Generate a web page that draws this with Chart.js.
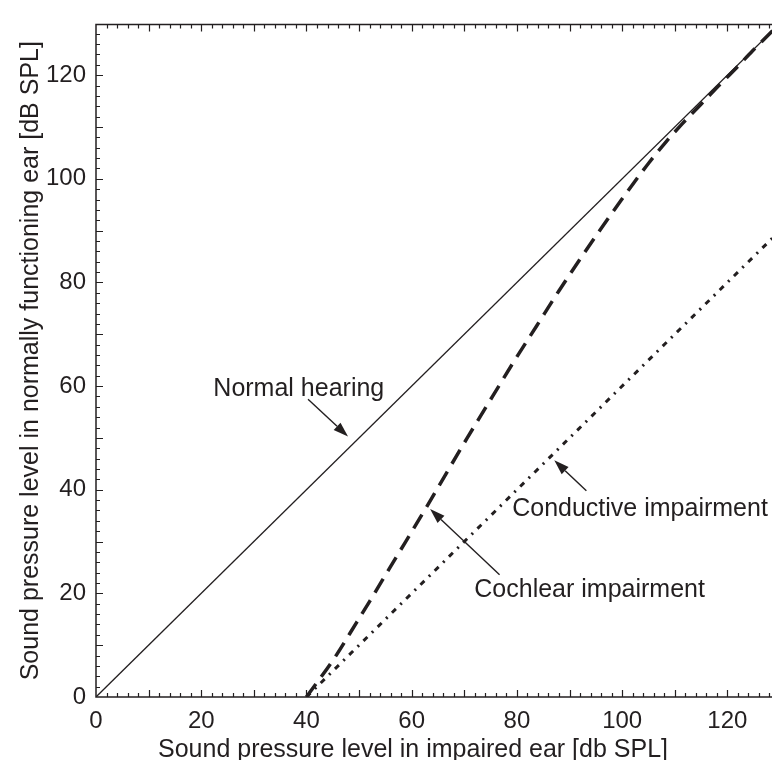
<!DOCTYPE html>
<html>
<head>
<meta charset="utf-8">
<script src="https://cdn.jsdelivr.net/npm/chart.js@4.4.0/dist/chart.umd.min.js"></script>
<style>
  html, body { margin: 0; padding: 0; background: #fff; overflow: hidden; }
  #wrap { width: 780px; height: 760px; position: relative; }
</style>
</head>
<body>
<div id="wrap"><canvas id="chart"></canvas></div>
<script>
// loudness curves: impaired-ear level (x) vs matching normal-ear level (y)
const normalX = [0, 130];
const normalY = [0, 130];
const cochlearX = [40, 45.5, 49.6, 52.1, 54.4, 56.9, 62.9, 67, 70.5, 75.6, 79.4, 83.8, 88, 92, 96, 99.7, 102.2, 105.1, 108.3, 111.4, 114.9, 118.1, 121.6, 124.8, 128.3, 130];
const cochlearY = [0, 7.8, 14.5, 18.6, 22.5, 26.7, 36.8, 43.9, 49.9, 58.4, 64.7, 71.7, 78.4, 84.5, 90.4, 95.7, 99.2, 103.1, 107.1, 110.6, 114.3, 117.7, 121.3, 124.7, 128.3, 130];
const conductiveX = [40, 130];
const conductiveY = [0, 90];

const xTicks = [0, 20, 40, 60, 80, 100, 120];
const yTicks = [0, 20, 40, 60, 80, 100, 120];
const xTitle = 'Sound pressure level in impaired ear [db SPL]';
const yTitle = 'Sound pressure level in normally functioning ear [dB SPL]';

// callout text and arrows, in data units
const calloutText = ['Normal hearing', 'Conductive impairment', 'Cochlear impairment'];
const calloutX = [22.3, 79.1, 71.9];
const calloutY = [58.05, 34.93, 19.22];
const arrowFromX = [40.3, 93.2, 76.7];
const arrowFromY = [57.48, 39.78, 23.6];
const arrowToX = [47.9, 87.1, 63.5];
const arrowToY = [50.25, 45.68, 36.26];

const ink = '#231f20';
const fontFamily = '"Liberation Sans", Arial, Helvetica, sans-serif';

function toPoints(xs, ys) {
  return xs.map((x, i) => ({ x, y: ys[i] }));
}

function drawArrow(ctx, x1, y1, x2, y2) {
  const ang = Math.atan2(y2 - y1, x2 - x1);
  const len = 15, half = 5;
  const bx = x2 - Math.cos(ang) * len;
  const by = y2 - Math.sin(ang) * len;
  ctx.beginPath();
  ctx.moveTo(x1, y1);
  ctx.lineTo(bx, by);
  ctx.lineWidth = 1.4;
  ctx.stroke();
  ctx.beginPath();
  ctx.moveTo(x2, y2);
  ctx.lineTo(bx + Math.sin(ang) * half, by - Math.cos(ang) * half);
  ctx.lineTo(bx - Math.sin(ang) * half, by + Math.cos(ang) * half);
  ctx.closePath();
  ctx.fill();
}

// frame with inward ticks, axis titles and callouts
const framePlugin = {
  id: 'frame',
  afterDatasetsDraw(chart) {
    const { ctx, chartArea: a, scales } = chart;
    const xs = scales.x, ys = scales.y;
    ctx.save();
    ctx.strokeStyle = ink;
    ctx.fillStyle = ink;
    ctx.lineWidth = 1.5;
    ctx.beginPath();
    ctx.moveTo(a.right, a.top);
    ctx.lineTo(a.left, a.top);
    ctx.lineTo(a.left, a.bottom);
    ctx.lineTo(a.right, a.bottom);
    ctx.stroke();

    ctx.lineWidth = 1.2;
    ctx.beginPath();
    for (let v = 2; v < xs.max; v += 2) {
      const px = Math.round(xs.getPixelForValue(v)) + 0.5;
      const l = v % 10 === 0 ? 7 : 4;
      ctx.moveTo(px, a.bottom); ctx.lineTo(px, a.bottom - l);
      ctx.moveTo(px, a.top); ctx.lineTo(px, a.top + l);
    }
    for (let v = 2; v < ys.max; v += 2) {
      const py = Math.round(ys.getPixelForValue(v)) + 0.5;
      const l = v % 10 === 0 ? 7 : 4;
      ctx.moveTo(a.left, py); ctx.lineTo(a.left + l, py);
      ctx.moveTo(a.right, py); ctx.lineTo(a.right - l, py);
    }
    ctx.stroke();

    ctx.font = '25px ' + fontFamily;
    ctx.textBaseline = 'alphabetic';
    ctx.textAlign = 'center';
    ctx.fillText(xTitle, 413, 757);
    ctx.save();
    ctx.translate(38, (a.top + a.bottom) / 2);
    ctx.rotate(-Math.PI / 2);
    ctx.fillText(yTitle, 0, 0);
    ctx.restore();

    ctx.textAlign = 'left';
    calloutText.forEach((t, i) => {
      ctx.fillText(t, xs.getPixelForValue(calloutX[i]), ys.getPixelForValue(calloutY[i]));
      drawArrow(ctx,
        xs.getPixelForValue(arrowFromX[i]), ys.getPixelForValue(arrowFromY[i]),
        xs.getPixelForValue(arrowToX[i]), ys.getPixelForValue(arrowToY[i]));
    });
    ctx.restore();
  }
};

const tickFont = { family: fontFamily, size: 24 };

new Chart(document.getElementById('chart'), {
  type: 'scatter',
  data: {
    datasets: [
      {
        label: 'Cochlear impairment',
        data: toPoints(cochlearX, cochlearY),
        showLine: true,
        borderColor: ink,
        borderWidth: 3.5,
        borderDash: [16, 9],
        cubicInterpolationMode: 'monotone',
        pointRadius: 0
      },
      {
        label: 'Conductive impairment',
        data: toPoints(conductiveX, conductiveY),
        showLine: true,
        borderColor: ink,
        borderWidth: 3,
        borderDash: [5.5, 6.25, 2, 6.25],
        pointRadius: 0
      },
      {
        label: 'Normal hearing',
        data: toPoints(normalX, normalY),
        showLine: true,
        borderColor: ink,
        borderWidth: 1.3,
        pointRadius: 0
      }
    ]
  },
  options: {
    responsive: true,
    maintainAspectRatio: false,
    animation: false,
    devicePixelRatio: 1,
    layout: { padding: { top: 15, right: 0, left: 0, bottom: 0 } },
    plugins: { legend: { display: false }, tooltip: { enabled: false } },
    scales: {
      x: {
        type: 'linear',
        min: 0,
        max: 130,
        grid: { display: false, drawTicks: false },
        border: { display: false },
        afterBuildTicks: s => { s.ticks = xTicks.map(v => ({ value: v })); },
        afterFit: s => { s.height = 63; },
        ticks: { color: ink, font: tickFont, padding: 10, maxRotation: 0 }
      },
      y: {
        type: 'linear',
        min: 0,
        max: 129.8,
        grid: { display: false, drawTicks: false },
        border: { display: false },
        afterBuildTicks: s => { s.ticks = yTicks.map(v => ({ value: v })); },
        afterFit: s => { s.width = 96; },
        ticks: { color: ink, font: tickFont, padding: 10 }
      }
    }
  },
  plugins: [framePlugin]
});
</script>
</body>
</html>
